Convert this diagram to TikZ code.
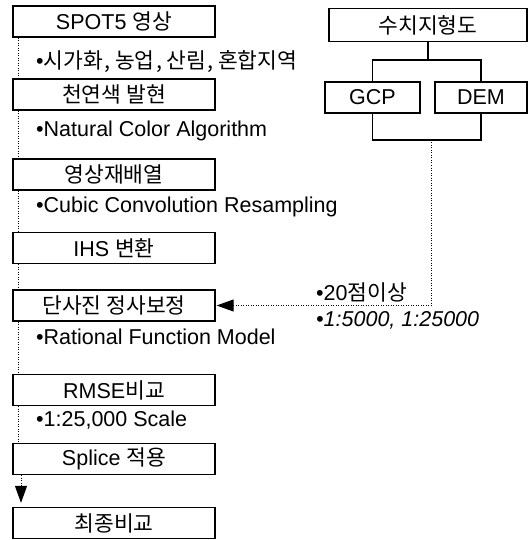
\documentclass[tikz,border=0pt]{standalone}
\usepackage{fontspec}
\setmainfont{Liberation Sans}
\newfontfamily\kr{Noto Sans CJK KR}
\usetikzlibrary{arrows.meta}
\def\boxfont{\fontsize{21.5pt}{24pt}\selectfont}
\def\notefont{\fontsize{21.5pt}{24pt}\selectfont}
\def\comma{\hspace{1.5pt},\hspace{4.5pt}}

\begin{document}
\begin{tikzpicture}[x=1pt,y=-1pt,
    box/.style={draw,line width=1.3pt,minimum height=31pt,inner sep=0pt,font=\boxfont},
    note/.style={anchor=west,inner sep=0pt,font=\notefont},
    flow/.style={line width=1pt,dash pattern=on 1pt off 1.5pt},
    link/.style={line width=1.3pt},
    >={Triangle[length=17pt,width=12pt]}]

    \useasboundingbox (0,0) rectangle (530,540);

    % main processing column
    \begin{scope}[every node/.append style={minimum width=202pt}]
        \draw (114,21.5) node[box] (spot) {SPOT5 {\kr 영상}};
        \draw (114,94.5) node[box] (color) {\kr 천연색 발현};
        \draw (114,174.5) node[box] (resamp) {\kr 영상재배열};
        \draw (114,248) node[box] (ihs) {IHS {\kr 변환}};
        \draw (114,305.5) node[box] (ortho) {\kr 단사진 정사보정};
        \draw (114,390) node[box] (rmse) {RMSE{\kr 비교}};
        \draw (114,459) node[box] (splice) {Splice {\kr 적용}};
        \draw (114,523) node[box] (final) {\kr 최종비교};
    \end{scope}

    \draw (36,62) node[note] (area) {•{\kr 시가화\comma 농업\comma 산림\comma 혼합지역}};
    \draw (36,131) node[note] (nca) {•Natural Color Algorithm};
    \draw (36,207) node[note] (ccr) {•Cubic Convolution Resampling};
    \draw (36,337) node[note] (rfm) {•Rational Function Model};
    \draw (36,420) node[note] (scl) {•1:25,000 Scale};

    \foreach \a/\b in {spot/color,color/resamp,resamp/ihs,ihs/ortho,ortho/rmse,rmse/splice}
        \draw[flow] ([xshift=-96pt]\a.south) -- ([xshift=-96pt]\b.north);
    \draw[flow,->,shorten >=4pt] ([xshift=-93pt]splice.south) -- ([xshift=-93pt]final.north);

    % digital map side
    \draw (428,25) node[box,minimum width=198pt,minimum height=33pt] (map) {\kr 수치지형도};
    \draw (372.5,97.5) node[box,minimum width=95pt] (gcp) {GCP};
    \draw (481,97.5) node[box,minimum width=92pt] (dem) {DEM};
    \coordinate (split) at (428,60);
    \coordinate (join) at (431,140);
    \draw[link] (map.south) -- (split);
    \draw[link] (gcp.north) |- (split) -| (dem.north);
    \draw[link] (gcp.south) |- (join) -| (dem.south);
    \draw[flow,->,shorten >=1pt] (join) |- (ortho.east);

    \draw (316,292) node[note] (pts) {•20{\kr 점이상}};
    \draw (316,320) node[note,font=\notefont\itshape] (maps) {•1:5000, 1:25000};

\end{tikzpicture}
\end{document}
